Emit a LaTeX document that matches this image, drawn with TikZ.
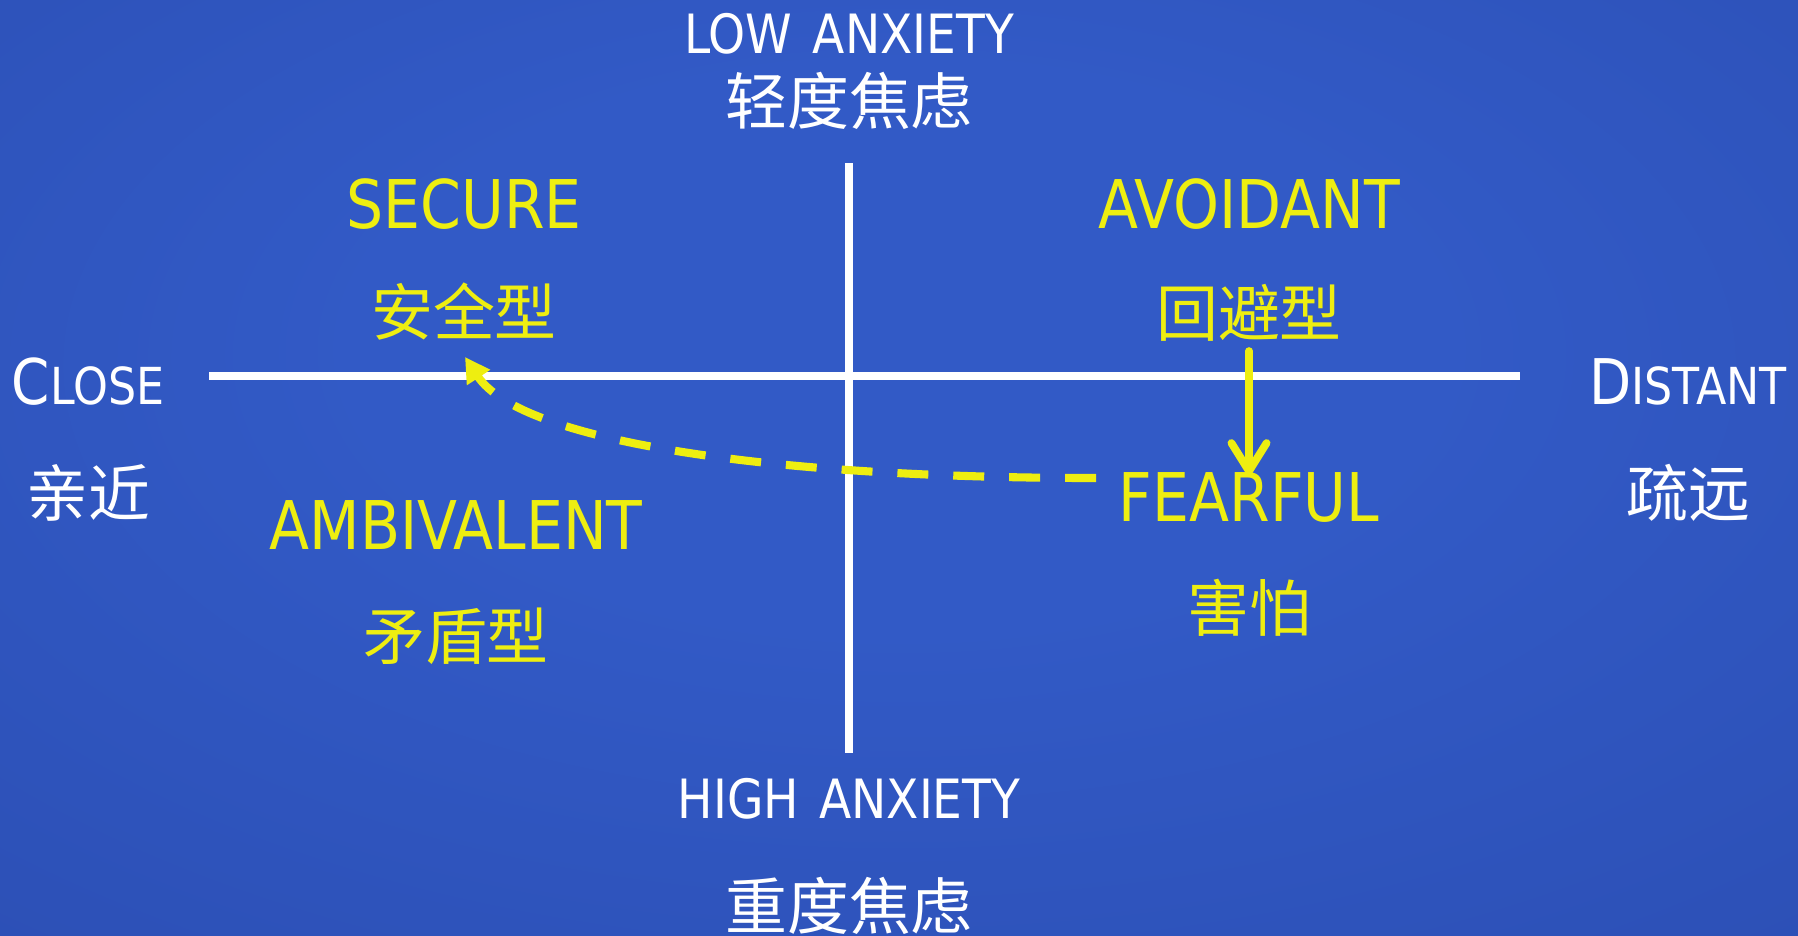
\documentclass[tikz,border=0pt]{standalone}
\usepackage{fontspec}
\setmainfont{DejaVu Sans}[FakeStretch=0.87]
\newfontfamily\cjk{Noto Sans CJK SC}
\usetikzlibrary{arrows.meta,calc}
\definecolor{bgin}{HTML}{325AC6}
\definecolor{bgmid}{HTML}{2A4CB0}
\definecolor{bgout}{HTML}{203FA0}
\definecolor{ylw}{HTML}{EEEE10}
\pgfdeclareradialshading{bgshade}{\pgfpoint{0bp}{8bp}}{color(0bp)=(bgin); color(15bp)=(bgin); color(48bp)=(bgmid); color(75bp)=(bgout)}
\begin{document}
\begin{tikzpicture}[x=0.01cm,y=-0.01cm,
  lbl/.style={inner sep=0pt, text=white},
  ylbl/.style={inner sep=0pt, text=ylw},
  en/.style={font=\fontsize{15.4pt}{17pt}\selectfont},
  yen/.style={font=\fontsize{19.1pt}{21pt}\selectfont},
  zh/.style={font=\fontsize{17.6pt}{19pt}\selectfont\cjk},
  axis/.style={draw=white, line width=2.2pt},
  solidarrow/.style={draw=ylw, line width=2.2pt, line cap=round, -{Straight Barb[length=8pt,width=10pt,round]}},
  dasharrow/.style={draw=ylw, line width=2.3pt, dash pattern=on 8.8pt off 7.1pt, -{Triangle[length=7pt,width=7.5pt]}}
]
\shade[shading=bgshade] (0,0) rectangle (1798,935);
\useasboundingbox (0,0) rectangle (1798,935);

% axes
\coordinate (vtop) at (849,163);
\coordinate (vbot) at (849,753);
\coordinate (hleft) at (209,376);
\coordinate (hright) at (1520,376);
\draw[axis] (vtop) -- (vbot);
\draw[axis] (hleft) -- (hright);

% axis labels
\node[lbl,en] (low) at (849,34) {LOW\hspace{0.1em} ANXIETY};
\node[lbl,zh] (lowcn) at (849,101) {轻度焦虑};
\node[lbl,en] (high) at (849,799) {HIGH\hspace{0.1em} ANXIETY};
\node[lbl,zh] (highcn) at (849,906) {重度焦虑};
\node[lbl] (close) at (88,382) {{\fontsize{17.9pt}{19pt}\selectfont C}{\fontsize{14.5pt}{16pt}\selectfont LOSE}};
\node[lbl,zh] (closecn) at (88,493) {亲近};
\node[lbl] (distant) at (1688,382) {{\fontsize{17.9pt}{19pt}\selectfont D}{\fontsize{14.5pt}{16pt}\selectfont ISTANT}};
\node[lbl,zh] (distantcn) at (1688,493) {疏远};

% quadrant labels
\node[ylbl,yen] (secure) at (464,204) {SECURE};
\node[ylbl,zh] (securecn) at (464,312) {安全型};
\node[ylbl,yen] (avoid) at (1249,204) {AVOIDANT};
\node[ylbl,zh] (avoidcn) at (1249,313) {回避型};
\node[ylbl,yen] (ambi) at (456,525) {AMBIVALENT};
\node[ylbl,zh] (ambicn) at (456,636) {矛盾型};
\node[ylbl,yen] (fear) at (1249,497) {FEARFUL};
\node[ylbl,zh] (fearcn) at (1249,608) {害怕};

% connectors
\draw[solidarrow] ($(avoidcn)+(0,38)$) -- ($(fear)+(0,-22)$);
\coordinate (dstart) at ($(fear)+(-153,-19)$);
\coordinate (dend) at ($(securecn)+(1,45)$);
\draw[dasharrow] (dstart) .. controls (760,478) and (520,440) .. (dend);
\end{tikzpicture}
\end{document}
